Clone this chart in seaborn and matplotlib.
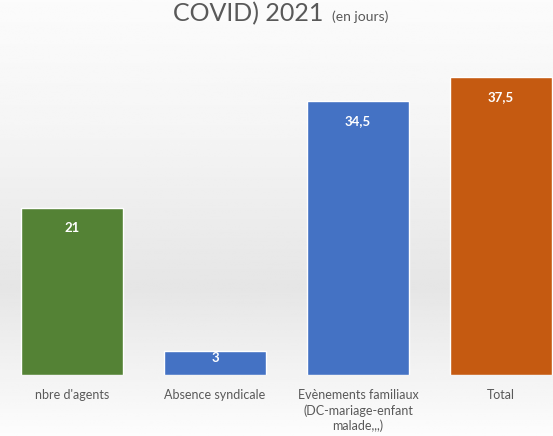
import numpy as np
import pandas as pd
import seaborn as sns
import matplotlib.pyplot as plt

# data
categories = ["nbre d'agents", "Absence syndicale",
              "Evènements familiaux\n(DC-mariage-enfant\nmalade,,,)", "Total"]
values = [21, 3, 34.5, 37.5]
value_labels = ["21", "3", "34,5", "37,5"]
colors = ["#548235", "#4472C4", "#4472C4", "#C55A11"]

sns.set_style("white")
plt.rcParams['font.family'] = ['Lato', 'DejaVu Sans']

fig = plt.figure(figsize=(5.53, 4.36), dpi=100)

# light grey background gradient
bg = fig.add_axes([0, 0, 1, 1], zorder=0)
yy = np.linspace(0, 1, 200)
shade = np.interp(yy, [0, 0.3, 0.66, 0.85, 1], [0.985, 0.96, 0.90, 0.95, 0.99])
bg.imshow(np.tile(shade[:, None], (1, 2)), cmap='gray', vmin=0, vmax=1,
          aspect='auto', extent=[0, 1, 0, 1], origin='upper')
bg.axis('off')

ax = fig.add_axes([0, 61 / 436, 1, 318 / 436], zorder=1)
ax.patch.set_alpha(0)

df = pd.DataFrame({'cat': categories, 'val': values})
sns.barplot(data=df, x='cat', y='val', hue='cat', palette=colors,
            legend=False, width=0.71, saturation=1, ax=ax)

ax.set_xlim(-72 / 143, 481 / 143)
ax.set_ylim(0, 40)
ax.set_xlabel('')
ax.set_ylabel('')
ax.set_yticks([])
ax.tick_params(axis='x', length=0, labelsize=9, labelcolor='#595959', pad=10)
for lbl in ax.get_xticklabels():
    lbl.set_linespacing(1.3)
for s in ax.spines.values():
    s.set_visible(False)

# data labels inside the top of each bar
for i, v in enumerate(values):
    ax.text(i, v - min(2.5, 0.3 * v), value_labels[i], ha='center', va='center',
            color='white', fontsize=9.5, fontweight='bold')

# title (top line cut off in the original)
fig.text(0.585, 1 - 21 / 436, "COVID) 2021", ha='right', va='baseline',
         fontsize=18, color='#595959')
fig.text(0.600, 1 - 21 / 436, "(en jours)", ha='left', va='baseline',
         fontsize=10, color='#595959')

fig.savefig('out.png', dpi=100)
